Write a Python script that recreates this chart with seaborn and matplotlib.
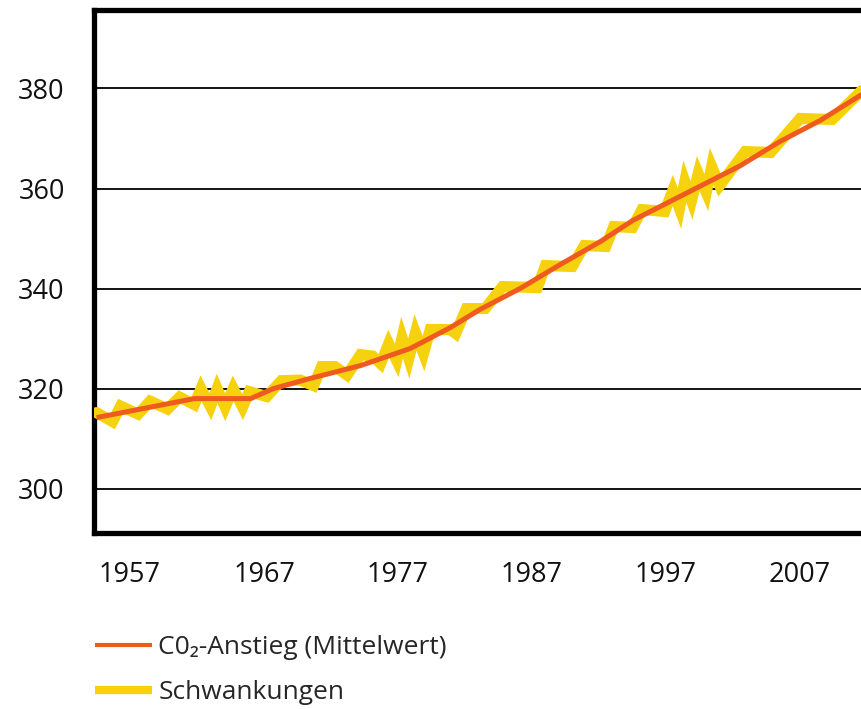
import matplotlib
matplotlib.use("Agg")
import matplotlib.pyplot as plt
import pandas as pd
import seaborn as sns
from matplotlib.lines import Line2D

# mean CO2 curve
mean_years = [1954.5, 1961.8, 1966.0, 1967.7, 1970.4, 1974.2, 1977.9, 1980.9,
              1983.1, 1986.1, 1989.1, 1992.1, 1994.5, 1997.0, 1999.2, 2002.5,
              2005.5, 2008.5, 2011.6]
mean_ppm = [314.2, 318.0, 318.0, 320.0, 322.0, 324.6, 328.0, 332.2,
            335.8, 340.0, 344.8, 349.4, 353.6, 357.0, 360.0, 364.5,
            369.4, 373.6, 378.8]

# zig-zag band of the fluctuations (vertices of the yellow stroke)
swing_years = [1954.5, 1955.7, 1956.3, 1957.6, 1958.5, 1959.8, 1960.7, 1961.8,
               1962.3, 1963.0, 1963.5, 1964.1, 1964.7, 1965.4, 1965.9, 1967.2,
               1968.3, 1969.7, 1970.7, 1971.3, 1972.3, 1973.2, 1974.2, 1975.1,
               1975.7, 1976.3, 1976.9, 1977.3, 1977.8, 1978.3, 1978.9, 1979.4,
               1980.9, 1981.3, 1982.1, 1983.5, 1984.8, 1987.4, 1988.0, 1990.0,
               1990.9, 1992.5, 1993.1, 1994.5, 1995.2, 1996.9, 1997.5, 1998.0,
               1998.4, 1998.9, 1999.4, 2000.0, 2000.4, 2001.0, 2002.9, 2004.8,
               2007.0, 2009.4, 2011.6]
swing_ppm = [315.2, 313.4, 316.5, 314.9, 317.5, 315.9, 318.3, 316.8,
             320.0, 316.4, 320.0, 316.3, 320.0, 316.3, 319.4, 318.4,
             321.6, 321.7, 320.6, 324.4, 324.4, 322.7, 326.8, 326.5,
             325.0, 329.0, 325.6, 330.2, 326.0, 331.2, 327.0, 331.8,
             331.8, 331.0, 336.0, 336.0, 340.4, 340.2, 344.6, 344.4,
             348.6, 348.4, 352.4, 352.2, 355.8, 355.4, 359.6, 356.0,
             361.4, 357.6, 363.0, 359.2, 364.4, 360.6, 367.4, 367.2,
             374.0, 373.8, 379.6]

y_ticks = [300, 320, 340, 360, 380]
x_ticks = [1957, 1967, 1977, 1987, 1997, 2007]
legend_labels = ["C0\u2082-Anstieg (Mittelwert)", "Schwankungen"]

ORANGE = '#ef5a1f'
YELLOW = '#f6d20e'


def main():
    sns.set_style("white")
    plt.rcParams['font.family'] = ['Open Sans', 'Noto Sans', 'DejaVu Sans']

    fig = plt.figure(figsize=(8.62, 7.09), dpi=100)
    # right edge of the frame lies outside the picture
    ax = fig.add_axes([0.109, 0.248, 0.912, 0.738])

    swing = pd.DataFrame({'year': swing_years, 'ppm': swing_ppm})
    mean = pd.DataFrame({'year': mean_years, 'ppm': mean_ppm})

    sns.lineplot(data=swing, x='year', y='ppm', ax=ax, color=YELLOW,
                 lw=8, estimator=None, sort=False,
                 solid_joinstyle='miter', zorder=3)
    sns.lineplot(data=mean, x='year', y='ppm', ax=ax, color=ORANGE,
                 lw=3.6, estimator=None, sort=False,
                 solid_capstyle='butt', zorder=4)

    ax.set_xlim(1954.31, 2012.97)
    ax.set_ylim(291.1, 395.7)
    ax.set_xticks(x_ticks)
    ax.set_yticks(y_ticks)
    ax.set_xlabel('')
    ax.set_ylabel('')
    ax.tick_params(axis='both', length=0, labelsize=19.5, colors='#111111')
    ax.tick_params(axis='y', pad=21)
    ax.tick_params(axis='x', pad=20)

    ax.yaxis.grid(True, color='black', lw=1.3)
    ax.xaxis.grid(False)
    ax.set_axisbelow(True)
    for side in ['left', 'top', 'bottom']:
        ax.spines[side].set_color('black')
        ax.spines[side].set_linewidth(3.8)
    ax.spines['right'].set_visible(False)

    handles = [Line2D([], [], color=ORANGE, lw=3.0, solid_capstyle='butt'),
               Line2D([], [], color=YELLOW, lw=6.0, solid_capstyle='butt')]
    fig.legend(handles, legend_labels, loc='upper left',
               bbox_to_anchor=(0.110, 0.104), frameon=False, fontsize=19,
               handlelength=2.15, handletextpad=0.25, labelspacing=0.75,
               borderaxespad=0, borderpad=0)

    fig.savefig('out.png', dpi=100)


if __name__ == "__main__":
    main()
